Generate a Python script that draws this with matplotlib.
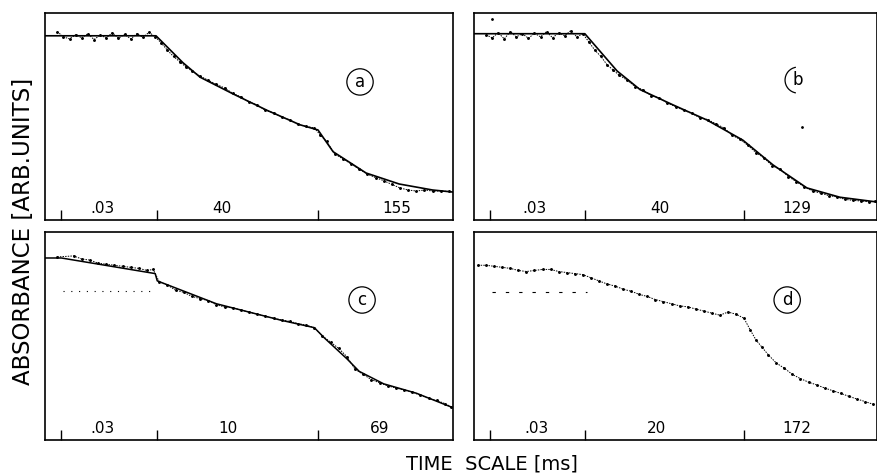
import numpy as np
import matplotlib
matplotlib.use('Agg')
import matplotlib.pyplot as plt
from matplotlib.patches import Arc

# x positions are in % of panel width, y in arbitrary absorbance units (0..1)
seg_ticks = [4, 27.5, 67]

# panel a
fit_a_x = [0, 27.2, 33.8, 38, 46, 54.4, 62.5, 66.9, 70.6, 78.7, 86.8, 95, 100]
fit_a_y = [0.89, 0.89, 0.76, 0.69, 0.61, 0.53, 0.46, 0.435, 0.33, 0.227, 0.174, 0.145, 0.135]
meas_a_x = [3, 4.5, 6, 7.5, 9, 10.5, 12, 13.5, 15, 16.5, 18, 19.5, 21, 22.5, 24, 25.5, 27,
            28.5, 30, 31.5, 33, 34.5, 36, 38, 40, 42, 44, 46, 48, 50, 52, 54, 56, 58, 60,
            62, 64, 66, 67.5, 69, 71, 73, 75, 77, 79, 81, 83, 85, 87, 89, 91, 93, 95, 97, 99]
meas_a_y = [0.91, 0.885, 0.875, 0.895, 0.88, 0.9, 0.872, 0.893, 0.88, 0.905, 0.878, 0.897,
            0.875, 0.9, 0.882, 0.907, 0.885,
            0.855, 0.82, 0.79, 0.765, 0.74, 0.72, 0.695, 0.675, 0.655, 0.638, 0.612, 0.595,
            0.57, 0.556, 0.53, 0.518, 0.497, 0.484, 0.462, 0.452, 0.445, 0.41, 0.38, 0.32,
            0.295, 0.272, 0.245, 0.222, 0.205, 0.19, 0.172, 0.155, 0.145, 0.14, 0.145, 0.14,
            0.14, 0.138]
labels_a = ['.03', '40', '155']
label_pos_a = [14.2, 43.4, 86.3]

# panel b
fit_b_x = [0, 27.5, 35.5, 41.2, 49.4, 57.8, 66.7, 74.2, 82.6, 90.8, 100]
fit_b_y = [0.90, 0.90, 0.72, 0.63, 0.556, 0.483, 0.386, 0.266, 0.155, 0.11, 0.087]
meas_b_x = [3, 4.5, 6, 7.5, 9, 10.5, 12, 13.5, 15, 16.5, 18, 19.5, 21, 22.5, 24, 25.5, 27,
            28.5, 30, 31.5, 33, 34.5, 36, 38, 40, 42, 44, 46, 48, 50, 52, 54, 56, 58, 60,
            62, 64, 66, 68, 70, 72, 74, 76, 78, 80, 82, 84, 86, 88, 90, 92, 94, 96, 98, 99.5]
meas_b_y = [0.895, 0.88, 0.905, 0.875, 0.91, 0.885, 0.9, 0.878, 0.902, 0.885, 0.91, 0.88,
            0.905, 0.89, 0.915, 0.885, 0.9,
            0.86, 0.82, 0.79, 0.75, 0.725, 0.70, 0.675, 0.645, 0.628, 0.60, 0.59, 0.565,
            0.548, 0.53, 0.515, 0.495, 0.485, 0.465, 0.445, 0.41, 0.39, 0.36, 0.325, 0.30,
            0.262, 0.245, 0.21, 0.185, 0.16, 0.14, 0.13, 0.118, 0.112, 0.10, 0.095, 0.092,
            0.088, 0.09]
labels_b = ['.03', '40', '129']
label_pos_b = [15.1, 46, 80]

# panel c
fit_c_x = [0, 4, 27, 27.5, 42, 58, 66, 68.5, 74, 77, 83, 91, 100]
fit_c_y = [0.875, 0.875, 0.80, 0.765, 0.655, 0.575, 0.54, 0.49, 0.39, 0.33, 0.27, 0.225, 0.155]
meas_c_x = [3, 7, 9, 11, 13, 15, 17, 19, 21, 23, 25, 26.5, 28, 30, 32, 34, 36, 38, 40, 42,
            44, 46, 48, 50, 52, 54, 56, 58, 60, 62, 64, 66, 68, 70, 72, 74, 76, 78, 80, 82,
            84, 86, 88, 90, 92, 94, 96, 98, 99.5]
meas_c_y = [0.88, 0.885, 0.87, 0.865, 0.85, 0.845, 0.84, 0.835, 0.83, 0.825, 0.815, 0.82,
            0.76, 0.745, 0.72, 0.71, 0.69, 0.68, 0.67, 0.65, 0.64, 0.635, 0.625, 0.615,
            0.605, 0.595, 0.585, 0.577, 0.57, 0.56, 0.552, 0.54, 0.50, 0.47, 0.44, 0.40,
            0.34, 0.315, 0.29, 0.275, 0.26, 0.25, 0.24, 0.23, 0.215, 0.20, 0.19, 0.175, 0.16]
base_c_x = [4.4, 26.5]
base_c_y = [0.716, 0.716]
labels_c = ['.03', '10', '69']
label_pos_c = [14.2, 44.9, 82]

# panel d (no fit drawn)
meas_d_x = [1, 3, 5, 7, 9, 11, 13, 15, 17, 19, 21, 23, 25, 27, 29, 31, 33, 35, 37, 39, 41,
            43, 45, 47, 49, 51, 53, 55, 57, 59, 61, 63, 65, 67, 68.5, 70, 71.5, 73, 75, 77,
            79, 81, 83, 85, 87, 89, 91, 93, 95, 97, 99]
meas_d_y = [0.84, 0.84, 0.835, 0.83, 0.825, 0.815, 0.81, 0.815, 0.82, 0.82, 0.81, 0.805,
            0.80, 0.795, 0.78, 0.765, 0.75, 0.74, 0.725, 0.715, 0.70, 0.69, 0.675, 0.665,
            0.655, 0.645, 0.64, 0.63, 0.62, 0.61, 0.60, 0.615, 0.605, 0.585, 0.53, 0.48,
            0.445, 0.41, 0.37, 0.345, 0.315, 0.295, 0.278, 0.265, 0.25, 0.237, 0.224, 0.21,
            0.197, 0.185, 0.172]
base_d_x = [4.5, 28]
base_d_y = [0.71, 0.71]
labels_d = ['.03', '20', '172']
label_pos_d = [15.6, 45.4, 80]


def setup_panel(ax, labels, label_pos):
    ax.set_xlim(0, 100)
    ax.set_ylim(0, 1)
    ax.set_yticks([])
    ax.set_xticks(seg_ticks)
    ax.set_xticklabels([])
    ax.set_xticks(label_pos, minor=True)
    ax.set_xticklabels(labels, minor=True)
    ax.tick_params(axis='x', which='major', direction='in', length=7, width=1)
    ax.tick_params(axis='x', which='minor', length=0, pad=-14, labelsize=11)
    for s in ax.spines.values():
        s.set_linewidth(1.2)


def draw_meas(ax, x, y):
    ax.plot(x, y, color='k', lw=0.7, ls=(0, (1.5, 1.2)), marker='.', ms=2.2)


fig = plt.figure(figsize=(8.78, 4.75), dpi=100)
ax_a = fig.add_axes([0.0513, 0.5368, 0.4647, 0.4358])
ax_b = fig.add_axes([0.5399, 0.5368, 0.459, 0.4358])
ax_c = fig.add_axes([0.0513, 0.0737, 0.4647, 0.4379])
ax_d = fig.add_axes([0.5399, 0.0737, 0.459, 0.4379])

circ = dict(boxstyle='circle,pad=0.25', fc='none', ec='k', lw=0.9)

# a
draw_meas(ax_a, meas_a_x, meas_a_y)
ax_a.plot(fit_a_x, fit_a_y, color='k', lw=1.2)
setup_panel(ax_a, labels_a, label_pos_a)
ax_a.text(77.2, 0.667, 'a', fontsize=12, ha='center', va='center', bbox=circ)

# b
draw_meas(ax_b, meas_b_x, meas_b_y)
ax_b.plot(fit_b_x, fit_b_y, color='k', lw=1.2)
ax_b.plot([4.5, 81.4], [0.97, 0.45], 'k.', ms=2)
setup_panel(ax_b, labels_b, label_pos_b)
ax_b.text(80.4, 0.676, 'b', fontsize=12, ha='center', va='center')
ax_b.add_patch(Arc((0.804, 0.676), 0.0645, 0.1256, theta1=95, theta2=265,
                   transform=ax_b.transAxes, color='k', lw=0.9))

# c
draw_meas(ax_c, meas_c_x, meas_c_y)
ax_c.plot(fit_c_x, fit_c_y, color='k', lw=1.1)
ax_c.plot(base_c_x, base_c_y, color='k', lw=0.8, ls=(0, (1, 6)))
setup_panel(ax_c, labels_c, label_pos_c)
ax_c.text(77.7, 0.673, 'c', fontsize=12, ha='center', va='center', bbox=circ)

# d
draw_meas(ax_d, meas_d_x, meas_d_y)
ax_d.plot(base_d_x, base_d_y, color='k', lw=0.8, ls=(0, (3, 9)))
setup_panel(ax_d, labels_d, label_pos_d)
ax_d.text(77.7, 0.673, 'd', fontsize=12, ha='center', va='center', bbox=circ)

fig.text(24 / 878, 1 - 231 / 475, 'ABSORBANCE [ARB.UNITS]', rotation=90,
         ha='center', va='center', fontsize=16.5)
fig.text(492 / 878, 1 - 464 / 475, 'TIME  SCALE [ms]', ha='center', va='center',
         fontsize=14)

fig.savefig('out.png', dpi=100)
